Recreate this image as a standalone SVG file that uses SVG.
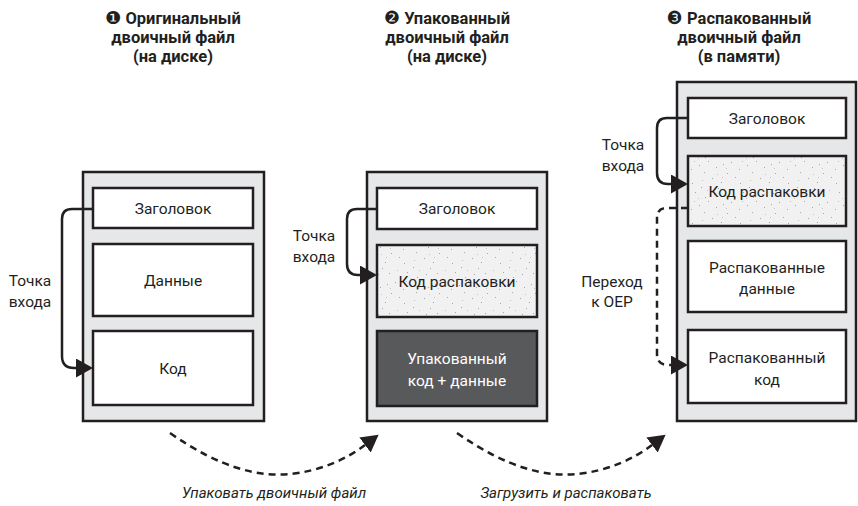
<svg xmlns="http://www.w3.org/2000/svg" width="858" height="506" viewBox="0 0 858 506">
  <defs>
    <style>
      .frame { fill: #e6e7e8; stroke: #231f20; stroke-width: 2.5; }
      .box { fill: #ffffff; stroke: #231f20; stroke-width: 2.5; }
      .stub { fill: url(#speckle); stroke: #231f20; stroke-width: 2.5; }
      .packed { fill: #58595b; stroke: #231f20; stroke-width: 2.5; }
      .lbl { font-family: Roboto, "Liberation Sans", sans-serif; font-size: 15.5px; fill: #231f20; text-anchor: middle; }
      .lbl-w { font-family: Roboto, "Liberation Sans", sans-serif; font-size: 15.5px; fill: #ffffff; text-anchor: middle; }
      .title { font-family: Roboto, "Liberation Sans", sans-serif; font-size: 16.5px; font-weight: bold; fill: #231f20; text-anchor: middle; }
      .num { font-family: "DejaVu Sans", sans-serif; font-size: 18px; font-weight: normal; }
      .cap { font-family: Roboto, "Liberation Sans", sans-serif; font-size: 15px; font-style: italic; fill: #231f20; text-anchor: middle; }
      .solid { fill: none; stroke: #231f20; stroke-width: 2.5; marker-end: url(#head); }
      .dash { fill: none; stroke: #231f20; stroke-width: 2.5; stroke-dasharray: 7 5; marker-end: url(#head); }
    </style>
    <marker id="head" markerUnits="userSpaceOnUse" markerWidth="18" markerHeight="20" refX="0" refY="9.5" orient="auto">
      <path d="M0,0 L17,9.5 L0,19 Z" fill="#231f20"/>
    </marker>
    <!-- light stippled fill for the unpacking stub -->
    <pattern id="speckle" patternUnits="userSpaceOnUse" width="48" height="40">
      <rect width="48" height="40" fill="#f1f1f2"/>
      <g fill="#a3a4a6">
        <rect x="3" y="4" width="1" height="1"/>
        <rect x="11" y="2" width="1" height="1"/>
        <rect x="19" y="9" width="1" height="1"/>
        <rect x="27" y="5" width="1" height="1"/>
        <rect x="36" y="1" width="1" height="1"/>
        <rect x="44" y="7" width="1" height="1"/>
        <rect x="7" y="13" width="1" height="1"/>
        <rect x="15" y="17" width="1" height="1"/>
        <rect x="32" y="12" width="1" height="1"/>
        <rect x="40" y="18" width="1" height="1"/>
        <rect x="1" y="22" width="1" height="1"/>
        <rect x="20" y="23" width="1" height="1"/>
        <rect x="29" y="27" width="1" height="1"/>
        <rect x="46" y="28" width="1" height="1"/>
        <rect x="5" y="33" width="1" height="1"/>
        <rect x="23" y="32" width="1" height="1"/>
        <rect x="33" y="37" width="1" height="1"/>
        <rect x="42" y="34" width="1" height="1"/>
      </g>
      <g fill="#c4c5c7">
        <rect x="6" y="8" width="1" height="1"/>
        <rect x="22" y="1" width="1" height="1"/>
        <rect x="30" y="20" width="1" height="1"/>
        <rect x="13" y="30" width="1" height="1"/>
        <rect x="45" y="14" width="1" height="1"/>
        <rect x="26" y="38" width="1" height="1"/>
        <rect x="2" y="17" width="1" height="1"/>
        <rect x="35" y="30" width="1" height="1"/>
      </g>
    </pattern>
  </defs>

  <!-- column headings -->
  <g id="heading-original">
    <text class="title" x="173" y="24"><tspan class="num">❶</tspan> Оригинальный</text>
    <text class="title" x="173" y="43">двоичный файл</text>
    <text class="title" x="173" y="62">(на диске)</text>
  </g>
  <g id="heading-packed">
    <text class="title" x="447" y="24"><tspan class="num">❷</tspan> Упакованный</text>
    <text class="title" x="447" y="43">двоичный файл</text>
    <text class="title" x="447" y="62">(на диске)</text>
  </g>
  <g id="heading-unpacked">
    <text class="title" x="739" y="24"><tspan class="num">❸</tspan> Распакованный</text>
    <text class="title" x="739" y="43">двоичный файл</text>
    <text class="title" x="739" y="62">(в памяти)</text>
  </g>

  <!-- original binary on disk -->
  <g id="original-binary">
    <rect class="frame" x="83" y="172" width="181" height="249"/>
    <g id="orig-header">
      <rect class="box" x="93" y="188" width="160" height="40"/>
      <text class="lbl" x="173" y="214">Заголовок</text>
    </g>
    <g id="orig-data">
      <rect class="box" x="93" y="244" width="160" height="72"/>
      <text class="lbl" x="173" y="286">Данные</text>
    </g>
    <g id="orig-code">
      <rect class="box" x="93" y="331" width="160" height="74"/>
      <text class="lbl" x="173" y="374">Код</text>
    </g>
  </g>

  <!-- packed binary on disk -->
  <g id="packed-binary">
    <rect class="frame" x="367" y="172" width="180" height="249"/>
    <g id="packed-header">
      <rect class="box" x="377" y="188" width="160" height="41"/>
      <text class="lbl" x="457" y="214">Заголовок</text>
    </g>
    <g id="packed-stub">
      <rect class="stub" x="377" y="245" width="160" height="72"/>
      <text class="lbl" x="457" y="287">Код распаковки</text>
    </g>
    <g id="packed-payload">
      <rect class="packed" x="377" y="331" width="160" height="75"/>
      <text class="lbl-w" x="457" y="364">Упакованный</text>
      <text class="lbl-w" x="457" y="386">код + данные</text>
    </g>
  </g>

  <!-- unpacked binary in memory -->
  <g id="unpacked-binary">
    <rect class="frame" x="677" y="82" width="179" height="339"/>
    <g id="mem-header">
      <rect class="box" x="688" y="98" width="158" height="40"/>
      <text class="lbl" x="767" y="124">Заголовок</text>
    </g>
    <g id="mem-stub">
      <rect class="stub" x="688" y="156" width="158" height="70"/>
      <text class="lbl" x="767" y="197">Код распаковки</text>
    </g>
    <g id="mem-data">
      <rect class="box" x="688" y="241" width="158" height="71"/>
      <text class="lbl" x="767" y="273">Распакованные</text>
      <text class="lbl" x="767" y="294">данные</text>
    </g>
    <g id="mem-code">
      <rect class="box" x="688" y="330" width="158" height="73"/>
      <text class="lbl" x="767" y="363">Распакованный</text>
      <text class="lbl" x="767" y="385">код</text>
    </g>
  </g>

  <!-- side labels -->
  <g id="side-labels">
    <text class="lbl" x="30" y="286">Точка</text>
    <text class="lbl" x="30" y="307">входа</text>
    <text class="lbl" x="314" y="241">Точка</text>
    <text class="lbl" x="314" y="262">входа</text>
    <text class="lbl" x="623" y="150">Точка</text>
    <text class="lbl" x="623" y="171">входа</text>
    <text class="lbl" x="612" y="287">Переход</text>
    <text class="lbl" x="612" y="307">к OEP</text>
  </g>

  <!-- captions -->
  <g id="captions">
    <text class="cap" x="274" y="498">Упаковать двоичный файл</text>
    <text class="cap" x="566" y="498">Загрузить и распаковать</text>
  </g>

  <!-- connectors -->
  <g id="connectors">
    <path class="solid" d="M93,209 H72 Q62,209 62,219 V356 Q62,368 74,368 H76"/>
    <path class="solid" d="M377,209 H357 Q347,209 347,219 V264 Q347,275 358,275 H360"/>
    <path class="solid" d="M688,118 H667 Q657,118 657,128 V173 Q657,184 668,184 H671"/>
    <path class="dash" d="M688,208 H667 Q657,208 657,218 V354 Q657,365 668,365 H671"/>
    <path class="dash" d="M170,433 C220,468 258,477 290,474 C320,471 345,460 365,445"/>
    <path class="dash" d="M457,433 C507,468 545,477 577,474 C607,471 632,460 652,445"/>
  </g>
</svg>
